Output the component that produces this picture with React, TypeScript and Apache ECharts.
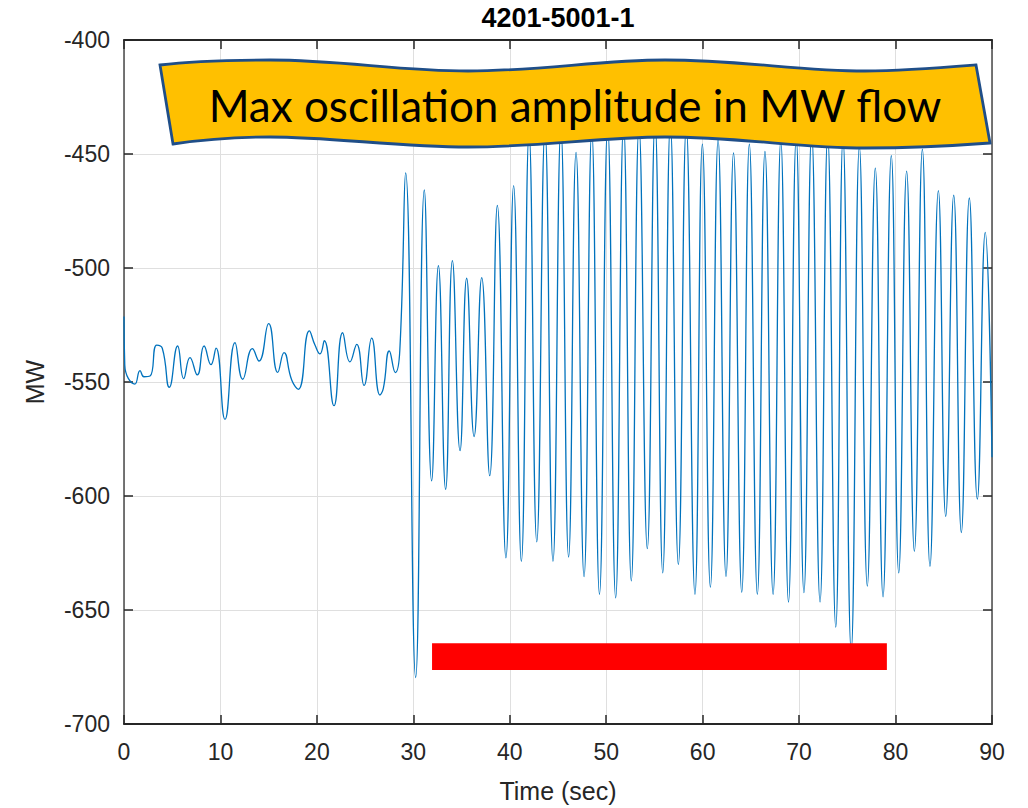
import React, { useEffect, useRef } from "react";
import * as echarts from "echarts";

// Time (sec) of each turning point of the MW trace
const times = [
  0, 0.08, 1.14, 1.66, 2.07, 2.7, 3.39, 3.97, 4.7, 5.56, 6.19, 6.84, 7.6, 8.3, 9.02, 9.54,
  10.47, 11.51, 12.31, 13.31, 14.0, 15.0, 15.94, 16.59, 17.39, 18.08, 19.22, 19.8, 20.32,
  20.77, 21.77, 22.67, 23.43, 24.13, 24.89, 25.68, 26.54, 26.89, 27.51, 28.13, 28.6,
  29.2, 30.24, 31.14, 31.9, 32.6, 33.35, 34.05, 34.84, 35.53, 36.3, 37.09, 37.92, 38.71,
  39.6, 40.4, 41.2, 42.0, 42.8, 43.65, 44.48, 45.3, 46.1, 46.87, 47.7, 48.5, 49.3, 50.15,
  50.98, 51.8, 52.6, 53.4, 54.26, 55.06, 55.86, 56.65, 57.48, 58.3, 59.2, 59.97, 60.8,
  61.6, 62.42, 63.2, 64.05, 64.84, 65.67, 66.46, 67.3, 68.1, 68.9, 69.7, 70.5, 71.3,
  72.17, 72.96, 73.8, 74.55, 75.4, 76.25, 77.07, 77.9, 78.7, 79.56, 80.33, 81.15, 81.95,
  82.78, 83.57, 84.44, 85.2, 86.03, 86.82, 87.65, 88.48, 89.3, 90.0,
];

// MW flow at those turning points
const mwFlow = [
  -521.3, -542.5, -550.9, -545.0, -547.7, -547.4, -533.8, -535.2, -552.3, -534.2, -548.5,
  -539.3, -546.9, -534.2, -542.4, -535.1, -566.4, -532.7, -548.8, -535.4, -540.8, -524.4,
  -545.8, -537.1, -549.1, -553.2, -527.6, -533.8, -537.7, -531.9, -560.4, -528.4, -541.2,
  -533.5, -551.5, -530.8, -555.7, -552.8, -536.4, -545.9, -536.0,
  -458.3, -679.6, -465.8, -593.4, -499.0, -597.1, -496.8, -580.1, -504.5, -573.9, -504.2,
  -591.1, -472.5, -627.1, -463.9, -628.7, -441, -620.1, -440, -628.7, -439, -626.8, -449.3,
  -635.4, -440, -643.1, -438, -644.7, -437, -637.2, -438, -623.1, -436, -633.7, -437,
  -630.1, -438, -643.1, -445.7, -640.0, -443.7, -635.3, -449.5, -642.2, -445.7, -643.1,
  -448.9, -643.1, -444, -646.5, -443, -642.4, -441, -646.5, -442, -657.5, -443, -668,
  -446.8, -639.5, -456.2, -644.2, -450.7, -633.7, -457.5, -624.3, -447.9, -630.9, -466.1,
  -608.9, -468.0, -616.0, -469.3, -601.4, -484.4, -583,
];

// Red marker bar: time span and MW level
const barTimes = [31.94, 79.1];
const barLevel = -670.45;

const xTicks = { min: 0, max: 90, interval: 10 };
const yTicks = { min: -700, max: -400, interval: 50 };

const titleText = "4201-5001-1";
const bannerText = "Max oscillation amplitude in MW flow";

const bannerPath =
  "M160 65 C190 61 225 60 270 60 C340 60 400 71 468 71 C540 71 600 60 665 60 " +
  "C740 60 800 71 865 71 C905 71 940 68 976 65 L990 143 " +
  "C950 146 905 148 865 148 C800 148 740 137 665 137 C600 137 540 147 468 147 " +
  "C400 147 330 137 270 137 C230 137 200 140 173 144 Z";

export default function App() {
  const ref = useRef<HTMLDivElement>(null);
  useEffect(() => {
    if (!ref.current) return;
    echarts.graphic.registerShape("banner", echarts.graphic.extendPath(bannerPath, {}));
    const chart = echarts.init(ref.current, null, { renderer: "svg" });
    const axisFont = '"Liberation Sans", Arial, sans-serif';
    const dark = "#262626";
    chart.setOption({
      animation: false,
      backgroundColor: "#ffffff",
      grid: { left: 124, right: 36, top: 40, bottom: 84, containLabel: false },
      xAxis: [
        {
          type: "value",
          position: "bottom",
          ...xTicks,
          name: "Time (sec)",
          nameLocation: "middle",
          nameGap: 54,
          nameTextStyle: { fontSize: 25, color: dark, fontFamily: axisFont },
          axisLine: { show: true, onZero: false, lineStyle: { color: dark, width: 2 } },
          axisTick: { show: true, inside: true, length: 9, lineStyle: { color: dark, width: 1.5 } },
          axisLabel: { fontSize: 23, color: dark, margin: 16, fontFamily: axisFont },
          splitLine: { show: true, lineStyle: { color: "#dfdfdf", width: 1 } },
        },
        {
          type: "value",
          position: "top",
          ...xTicks,
          axisLine: { show: true, onZero: false, lineStyle: { color: dark, width: 2 } },
          axisTick: { show: true, inside: true, length: 9, lineStyle: { color: dark, width: 1.5 } },
          axisLabel: { show: false },
          splitLine: { show: false },
        },
      ],
      yAxis: [
        {
          type: "value",
          position: "left",
          ...yTicks,
          name: "MW",
          nameLocation: "middle",
          nameGap: 77,
          nameTextStyle: { fontSize: 25, color: dark, fontFamily: axisFont },
          axisLine: { show: true, onZero: false, lineStyle: { color: "#4a4a4a", width: 1.5 } },
          axisTick: { show: true, inside: true, length: 9, lineStyle: { color: dark, width: 1.5 } },
          axisLabel: { fontSize: 23, color: dark, margin: 14, fontFamily: axisFont },
          splitLine: { show: true, lineStyle: { color: "#dfdfdf", width: 1 } },
        },
        {
          type: "value",
          position: "right",
          ...yTicks,
          axisLine: { show: true, onZero: false, lineStyle: { color: "#4a4a4a", width: 1.5 } },
          axisTick: { show: true, inside: true, length: 9, lineStyle: { color: dark, width: 1.5 } },
          axisLabel: { show: false },
          splitLine: { show: false },
        },
      ],
      series: [
        {
          type: "line",
          name: "MW",
          data: times.map((t, i) => [t, mwFlow[i]]),
          smooth: 0.5,
          symbol: "none",
          lineStyle: { color: "#0072BD", width: 1.3 },
          z: 2,
          silent: true,
        },
        {
          type: "line",
          name: "bar",
          data: barTimes.map((t) => [t, barLevel]),
          symbol: "none",
          lineStyle: { color: "#FF0000", width: 26.7, cap: "butt" },
          z: 3,
          silent: true,
        },
      ],
      graphic: [
        {
          type: "text",
          x: 558,
          y: 18,
          style: {
            text: titleText,
            font: 'bold 27px "Liberation Sans", Arial, sans-serif',
            fill: "#000000",
            align: "center",
            verticalAlign: "middle",
          },
        },
        {
          type: "banner",
          x: 0,
          y: 0,
          z: 100,
          style: { fill: "#FFC000", stroke: "#1F4E88", lineWidth: 2.8 },
        },
        {
          type: "text",
          x: 575,
          y: 105,
          z: 101,
          style: {
            text: bannerText,
            font: '44px Lato, "Open Sans", sans-serif',
            fill: "#000000",
            align: "center",
            verticalAlign: "middle",
          },
        },
      ],
    });
    return () => chart.dispose();
  }, []);
  return (
    <div
      ref={ref}
      style={{ position: "fixed", left: 0, top: 0, width: 1028, height: 808 }}
    />
  );
}
